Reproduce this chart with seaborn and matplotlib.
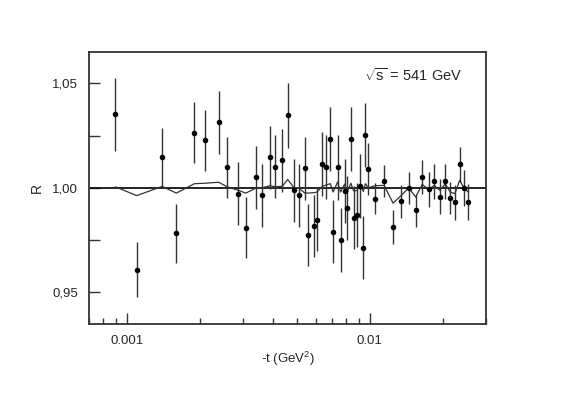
import matplotlib
matplotlib.use("Agg")
import matplotlib.pyplot as plt
import matplotlib.ticker as mticker
import seaborn as sns
import pandas as pd

# -----------------------------------
# Data
# -----------------------------------
t_vals = [0.000898, 0.00110, 0.00140, 0.00160, 0.00190, 0.00209, 0.00239, 0.00259,
          0.00288, 0.00309, 0.00339, 0.00359, 0.00388, 0.00409, 0.00437, 0.00459,
          0.00488, 0.00509, 0.00539, 0.00557, 0.00589, 0.00607, 0.00637, 0.00658,
          0.00687, 0.00706, 0.00736, 0.00758, 0.00787, 0.00804, 0.00835, 0.00857,
          0.00887, 0.00908, 0.00940, 0.00958, 0.00984, 0.01045, 0.01143, 0.01245,
          0.01346, 0.01443, 0.01542, 0.01641, 0.01742, 0.01837, 0.01940, 0.02040,
          0.02138, 0.02235, 0.02338, 0.02433, 0.02535]

r_vals = [1.0352, 0.9609, 1.0148, 0.9782, 1.0263, 1.0228, 1.0313, 1.0098,
          0.9973, 0.9810, 1.0051, 0.9965, 1.0146, 1.0102, 1.0131, 1.0347,
          0.9988, 0.9965, 1.0093, 0.9775, 0.9818, 0.9847, 1.0115, 1.0101,
          1.0235, 0.9791, 1.0098, 0.9750, 0.9984, 0.9903, 1.0233, 0.9858,
          0.9871, 1.0010, 0.9714, 1.0251, 1.0090, 0.9949, 1.0033, 0.9813,
          0.9935, 0.9999, 0.9893, 1.0053, 0.9994, 1.0032, 0.9957, 1.0032,
          0.9951, 0.9930, 1.0112, 1.0000, 0.9933]

r_err = [0.0174, 0.0130, 0.0140, 0.0140, 0.0146, 0.0146, 0.0150, 0.0147,
         0.0150, 0.0146, 0.0150, 0.0150, 0.0150, 0.0150, 0.0150, 0.0155,
         0.0150, 0.0150, 0.0150, 0.0150, 0.0150, 0.0150, 0.0154, 0.0152,
         0.0153, 0.0152, 0.0155, 0.0153, 0.0152, 0.0154, 0.0154, 0.0152,
         0.0152, 0.0152, 0.0152, 0.0153, 0.0125, 0.0072, 0.0077, 0.0080,
         0.0077, 0.0078, 0.0080, 0.0080, 0.0084, 0.0084, 0.0084, 0.0084,
         0.0078, 0.0082, 0.0082, 0.0086, 0.0086]

model = [1.0005, 0.9963, 1.0007, 0.9975, 1.0020, 1.0022, 1.0027, 1.0005,
         0.9988, 0.9975, 0.9998, 1.0000, 1.0010, 1.0005, 1.0008, 1.0040,
         1.0000, 1.0000, 0.9976, 0.9975, 0.9977, 0.9980, 1.0008, 1.0013,
         1.0020, 0.9980, 1.0027, 0.9980, 1.0018, 0.9975, 1.0022, 0.9985,
         0.9988, 1.0015, 0.9983, 1.0020, 1.0000, 1.0010, 1.0012, 0.9927,
         0.9964, 1.0000, 0.9956, 1.0017, 0.9991, 1.0012, 0.9988, 1.0020,
         0.9980, 0.9972, 1.0036, 1.0000, 0.9980]

df = pd.DataFrame({"t": t_vals, "R": r_vals, "err": r_err, "model": model})

# Set Style
sns.set_style("ticks")
plt.rcParams["font.family"] = ["Liberation Sans", "DejaVu Sans"]
plt.rcParams["mathtext.fontset"] = "custom"
plt.rcParams["mathtext.rm"] = "Liberation Sans"
plt.rcParams["mathtext.it"] = "Liberation Sans"

fig = plt.figure(figsize=(5.61, 3.94), dpi=100)
ax = fig.add_axes([0.1586, 0.1784, 0.7077, 0.6896])

# -----------------------------------
# Reference line, model curve, data
# -----------------------------------
ax.axhline(1.0, color="#111111", lw=1.3, zorder=2)

sns.lineplot(x="t", y="model", data=df, ax=ax, sort=False, estimator=None,
             color="#333333", lw=0.9, zorder=3)

ax.errorbar(df["t"], df["R"], yerr=df["err"], fmt="none",
            ecolor="#333333", elinewidth=1.0, capsize=0, zorder=4)
sns.scatterplot(x="t", y="R", data=df, ax=ax, color="black", s=16,
                edgecolor="black", linewidth=0, zorder=5)

# -----------------------------------
# Axes
# -----------------------------------
ax.set_xscale("log")
ax.set_xlim(0.0007, 0.03)
ax.set_ylim(0.935, 1.065)

ax.xaxis.set_major_locator(mticker.FixedLocator([0.001, 0.01]))
ax.xaxis.set_major_formatter(mticker.FixedFormatter(["0.001", "0.01"]))
ax.xaxis.set_minor_locator(mticker.LogLocator(base=10, subs=range(2, 10)))
ax.xaxis.set_minor_formatter(mticker.NullFormatter())

ax.yaxis.set_major_locator(mticker.FixedLocator([0.95, 1.00, 1.05]))
ax.yaxis.set_major_formatter(mticker.FixedFormatter(["0,95", "1,00", "1,05"]))
ax.yaxis.set_minor_locator(mticker.FixedLocator([0.975, 1.025]))

ax.tick_params(which="both", direction="in", top=False, right=False,
               labelsize=9.5, color="#333333", width=1.0, pad=8)
ax.tick_params(axis="x", which="major", length=8)
ax.tick_params(axis="x", which="minor", length=4)
ax.tick_params(axis="y", which="both", length=8)

for sp in ax.spines.values():
    sp.set_visible(True)
    sp.set_linewidth(1.3)
    sp.set_color("#333333")

ax.set_xlabel("-t (GeV$^2$)", fontsize=9.5, labelpad=2)
ax.set_ylabel("R", fontsize=10, labelpad=6)

ax.text(0.816, 0.915, r"$\sqrt{\mathrm{s}}\,=\,541\ \mathrm{GeV}$", transform=ax.transAxes,
        fontsize=10.5, ha="center", va="center")

fig.savefig("out.png", dpi=100)
